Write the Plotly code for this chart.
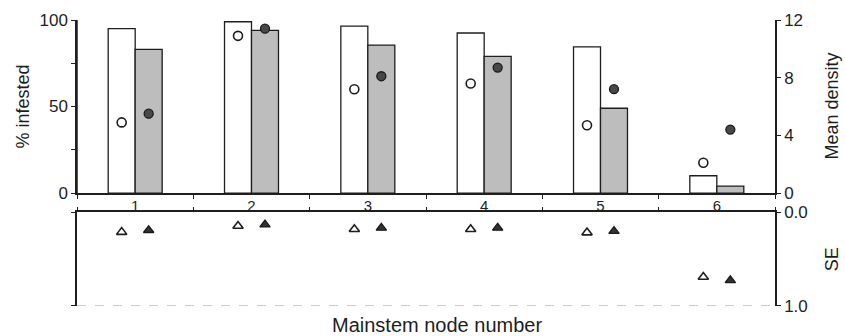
import plotly.graph_objects as go

# ---- data ----
nodes = ["1", "2", "3", "4", "5", "6"]
pct_open = [95, 99, 96.5, 92.5, 84.5, 10]
pct_filled = [83, 94, 85.5, 79, 49, 4]
dens_open = [4.9, 10.9, 7.2, 7.6, 4.7, 2.1]
dens_filled = [5.5, 11.4, 8.1, 8.7, 7.2, 4.4]
se_open = [0.21, 0.145, 0.18, 0.18, 0.215, 0.69]
se_filled = [0.19, 0.13, 0.165, 0.165, 0.2, 0.725]

left_ticks = [0, 50, 100]
right_ticks = [0, 4, 8, 12]
se_ticks = [0.0, 1.0]
se_ticktext = ["0.0", "1.0"]

# ---- positions ----
pos = list(range(1, len(nodes) + 1))
bounds = [p - 0.5 for p in pos] + [pos[-1] + 0.5]
bargap = 0.536
half = (1 - bargap) / 4
x_open = [p - half for p in pos]
x_filled = [p + half for p in pos]

FONT = "Liberation Sans, Arial, sans-serif"
INK = "#1e1e1e"

fig = go.Figure()
fig.add_trace(go.Bar(x=pos, y=pct_open, marker=dict(color="white", line=dict(color=INK, width=1.3)),
                     xaxis="x", yaxis="y", showlegend=False))
fig.add_trace(go.Bar(x=pos, y=pct_filled, marker=dict(color="#bdbdbd", line=dict(color=INK, width=1.3)),
                     xaxis="x", yaxis="y", showlegend=False))
fig.add_trace(go.Scatter(x=x_open, y=dens_open, mode="markers", xaxis="x", yaxis="y2",
                         marker=dict(symbol="circle", size=9, color="white", line=dict(color=INK, width=1.6)),
                         showlegend=False))
fig.add_trace(go.Scatter(x=x_filled, y=dens_filled, mode="markers", xaxis="x", yaxis="y2",
                         marker=dict(symbol="circle", size=9, color="#484848", line=dict(color="#1a1a1a", width=1.3)),
                         showlegend=False))
fig.add_trace(go.Scatter(x=x_open, y=se_open, mode="markers", xaxis="x2", yaxis="y3",
                         marker=dict(symbol="triangle-up", size=9, color="white", line=dict(color=INK, width=1.6)),
                         showlegend=False))
fig.add_trace(go.Scatter(x=x_filled, y=se_filled, mode="markers", xaxis="x2", yaxis="y4",
                         marker=dict(symbol="triangle-up", size=9, color="#333", line=dict(color="#1a1a1a", width=1.3)),
                         showlegend=False))

axline = dict(showline=True, linecolor=INK, linewidth=1.5, showgrid=False, zeroline=False,
              tickcolor=INK, tickwidth=1.3, ticklen=4)
axline_nolen = {k: v for k, v in axline.items() if k != "ticklen"}

top_dom = [0.395, 1.0]
bot_dom = [0.0, 0.327]

fig.update_layout(
    width=845, height=336,
    margin=dict(l=77, r=70, t=20, b=30),
    paper_bgcolor="white", plot_bgcolor="white",
    font=dict(family=FONT, color=INK, size=17),
    barmode="group", bargap=bargap, bargroupgap=0,
    xaxis=dict(domain=[0, 1], anchor="y", range=[bounds[0], bounds[-1]],
               tickmode="array", tickvals=pos, ticktext=nodes, ticks="",
               tickfont=dict(size=15), ticklabelstandoff=-2,
               minor=dict(tickmode="array", tickvals=bounds, ticks="outside", ticklen=4,
                          tickcolor=INK, tickwidth=1.3),
               **axline_nolen),
    yaxis=dict(domain=top_dom, anchor="x", range=[0, 100], tickmode="array", tickvals=left_ticks,
               ticks="outside", tickfont=dict(size=17),
               minor=dict(tickmode="array", tickvals=[25, 75], ticks="outside", ticklen=4,
                          tickcolor=INK, tickwidth=1.3),
               **axline),
    yaxis2=dict(overlaying="y", side="right", anchor="x", range=[0, 12], tickmode="array",
                tickvals=right_ticks, ticks="outside", tickfont=dict(size=17), **axline),
    xaxis2=dict(domain=[0, 1], anchor="y3", side="top", range=[bounds[0], bounds[-1]],
                showticklabels=False, ticks="",
                minor=dict(tickmode="array", tickvals=bounds, ticks="outside", ticklen=4,
                           tickcolor=INK, tickwidth=1.3),
                **axline_nolen),
    yaxis3=dict(domain=bot_dom, anchor="x2", side="right", range=[1, 0], tickmode="array",
                tickvals=se_ticks, ticktext=se_ticktext, ticks="outside", tickfont=dict(size=17),
                **axline),
    yaxis4=dict(overlaying="y3", side="left", anchor="x2", range=[1, 0], tickmode="array",
                tickvals=se_ticks, showticklabels=False, ticks="outside", **axline),
)

# left frame line of the upper panel (drawn explicitly to guarantee it shows)
fig.add_shape(type="line", xref="paper", x0=0, x1=0, yref="y", y0=0, y1=100,
              line=dict(color=INK, width=1.5), layer="above")
# dashed lower border of the SE panel
fig.add_shape(type="line", xref="paper", x0=0, x1=1, yref="y3", y0=1, y1=1,
              line=dict(color="#9a9a9a", width=1.2, dash="dash"))

fig.add_annotation(text="% infested", xref="paper", yref="paper", x=(23 - 77) / 698,
                   y=(top_dom[0] + top_dom[1]) / 2, textangle=-90, showarrow=False,
                   xanchor="center", yanchor="middle", font=dict(size=18))
fig.add_annotation(text="Mean density", xref="paper", yref="paper", x=(832 - 77) / 698,
                   y=(top_dom[0] + top_dom[1]) / 2, textangle=-90, showarrow=False,
                   xanchor="center", yanchor="middle", font=dict(size=18))
fig.add_annotation(text="SE", xref="paper", yref="paper", x=(832 - 77) / 698,
                   y=(bot_dom[0] + bot_dom[1]) / 2, textangle=-90, showarrow=False,
                   xanchor="center", yanchor="middle", font=dict(size=18))
fig.add_annotation(text="Mainstem node number", xref="paper", yref="paper", x=(437 - 77) / 698,
                   y=-19 / 286, showarrow=False, xanchor="center", yanchor="middle",
                   font=dict(size=20))

fig.write_html("out.html")
